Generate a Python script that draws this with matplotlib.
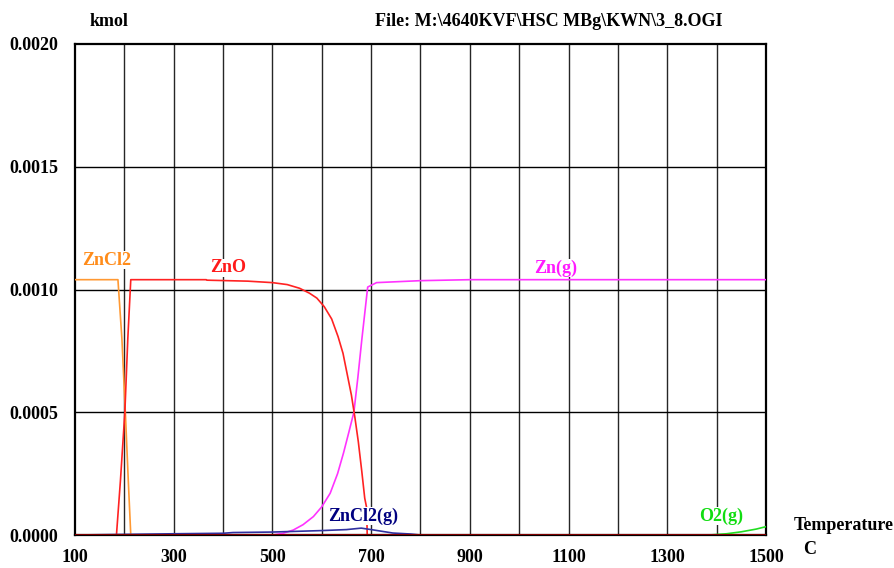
import matplotlib
matplotlib.use("Agg")
import matplotlib.pyplot as plt

# Equilibrium amounts (kmol) versus temperature (C)
t_zncl2 = [100, 187, 195, 202, 208, 213, 1500]
zncl2 = [0.00104, 0.00104, 0.00080, 0.00050, 0.00022, 0.0, 0.0]

t_zno = [100, 184, 192, 201, 207, 213, 300, 366, 367, 450, 500, 530, 555, 575,
         590, 605, 620, 633, 643, 652, 660, 667, 674, 681, 687, 691, 692, 1500]
zno = [0.0, 0.0, 0.00022, 0.00050, 0.00080, 0.00104, 0.00104, 0.00104, 0.001038,
       0.001034, 0.001028, 0.00102, 0.001005, 0.000985, 0.000965, 0.00093,
       0.00088, 0.000808, 0.00074, 0.00065, 0.00057, 0.00048, 0.00038, 0.00026,
       0.000150, 0.00011, 0.0, 0.0]

t_zng = [100, 500, 520, 542, 562, 583, 600, 617, 632, 644, 655, 665, 673, 681,
         688, 693, 711, 800, 900, 1500]
zng = [0.0, 0.0, 0.000006, 0.00002, 0.000042, 0.000075, 0.000115, 0.00017,
       0.00025, 0.000334, 0.00042, 0.0005, 0.00064, 0.000794, 0.00092, 0.00101,
       0.001028, 0.001036, 0.00104, 0.00104]

t_zncl2g = [100, 300, 400, 420, 500, 600, 650, 680, 700, 744, 780, 800, 1500]
zncl2g = [0.0, 0.000005, 0.000007, 0.00001, 0.000012, 0.000018, 0.000022,
          0.000028, 0.000022, 0.000008, 0.000004, 0.0, 0.0]

t_o2g = [100, 1385, 1420, 1450, 1480, 1500]
o2g = [0.0, 0.0, 0.000005, 0.000013, 0.000024, 0.000034]

t_base = [100, 1500]
base = [0.0, 0.0]

x_ticks = [100, 300, 500, 700, 900, 1100, 1300, 1500]
y_ticks = [0.0, 0.0005, 0.0010, 0.0015, 0.0020]
y_tick_labels = ["0.0000", "0.0005", "0.0010", "0.0015", "0.0020"]

SERIF = ["Liberation Serif", "DejaVu Serif"]
plt.rcParams["font.family"] = SERIF
plt.rcParams["font.weight"] = "bold"

fig = plt.figure(figsize=(8.95, 5.68), dpi=100)
ax = fig.add_axes([75 / 895, 33 / 568, 691 / 895, 491 / 568])
ax.set_xlim(100, 1500)
ax.set_ylim(0, 0.002)

# grid
for x in range(200, 1500, 100):
    ax.axvline(x, color="#262626", lw=1.0, zorder=1)
for y in [0.0005, 0.0010, 0.0015]:
    ax.axhline(y, color="black", lw=1.0, zorder=1)

ax.plot(t_zncl2, zncl2, color="#FF9933", lw=1.2, zorder=3)
ax.plot(t_zng, zng, color="#FF33FF", lw=1.2, zorder=3)
ax.plot(t_zncl2g, zncl2g, color="#3030A0", lw=1.2, zorder=4)
ax.plot(t_o2g, o2g, color="#22DD22", lw=1.2, zorder=4)
ax.plot(t_zno, zno, color="#FF2222", lw=1.2, zorder=3)
ax.plot(t_base, base, color="#800000", lw=1.5, zorder=5)

for s in ax.spines.values():
    s.set_linewidth(1.6)
    s.set_color("black")

fs = 13
ax.set_xticks(x_ticks)
ax.set_yticks(y_ticks)
ax.set_yticklabels(y_tick_labels)
ax.tick_params(length=0, labelsize=fs, pad=12)
ax.tick_params(axis="x", pad=10)
for lbl in ax.get_xticklabels() + ax.get_yticklabels():
    lbl.set_fontweight("bold")

# species labels sit on white boxes that hide the grid behind them
box = dict(facecolor="white", edgecolor="none", pad=0.3)
ax.text(114, 0.00112, "ZnCl2", color="#FF8C1A", fontsize=fs, fontweight="bold",
        ha="left", va="center", bbox=box, zorder=6)
ax.text(410, 0.001088, "ZnO", color="#FF1A1A", fontsize=fs, fontweight="bold",
        ha="center", va="center", bbox=box, zorder=6)
ax.text(1074, 0.001088, "Zn(g)", color="#FF1AFF", fontsize=fs, fontweight="bold",
        ha="center", va="center", bbox=box, zorder=6)
ax.text(683, 0.0000775, "ZnCl2(g)", color="#000080", fontsize=fs, fontweight="bold",
        ha="center", va="center", bbox=box, zorder=6)
ax.text(1410, 0.0000775, "O2(g)", color="#11DD11", fontsize=fs, fontweight="bold",
        ha="center", va="center", bbox=box, zorder=6)

fig.text(90 / 895, 1 - 22 / 568, "kmol", fontsize=fs, fontweight="bold",
         ha="left", va="center")
fig.text(375 / 895, 1 - 22 / 568, "File: M:\\4640KVF\\HSC MBg\\KWN\\3_8.OGI",
         fontsize=fs, fontweight="bold", ha="left", va="center")
fig.text(794 / 895, 1 - 525 / 568, "Temperature", fontsize=fs, fontweight="bold",
         ha="left", va="center")
fig.text(810 / 895, 1 - 550 / 568, "C", fontsize=fs, fontweight="bold",
         ha="center", va="center")

fig.savefig("out.png", dpi=100)
